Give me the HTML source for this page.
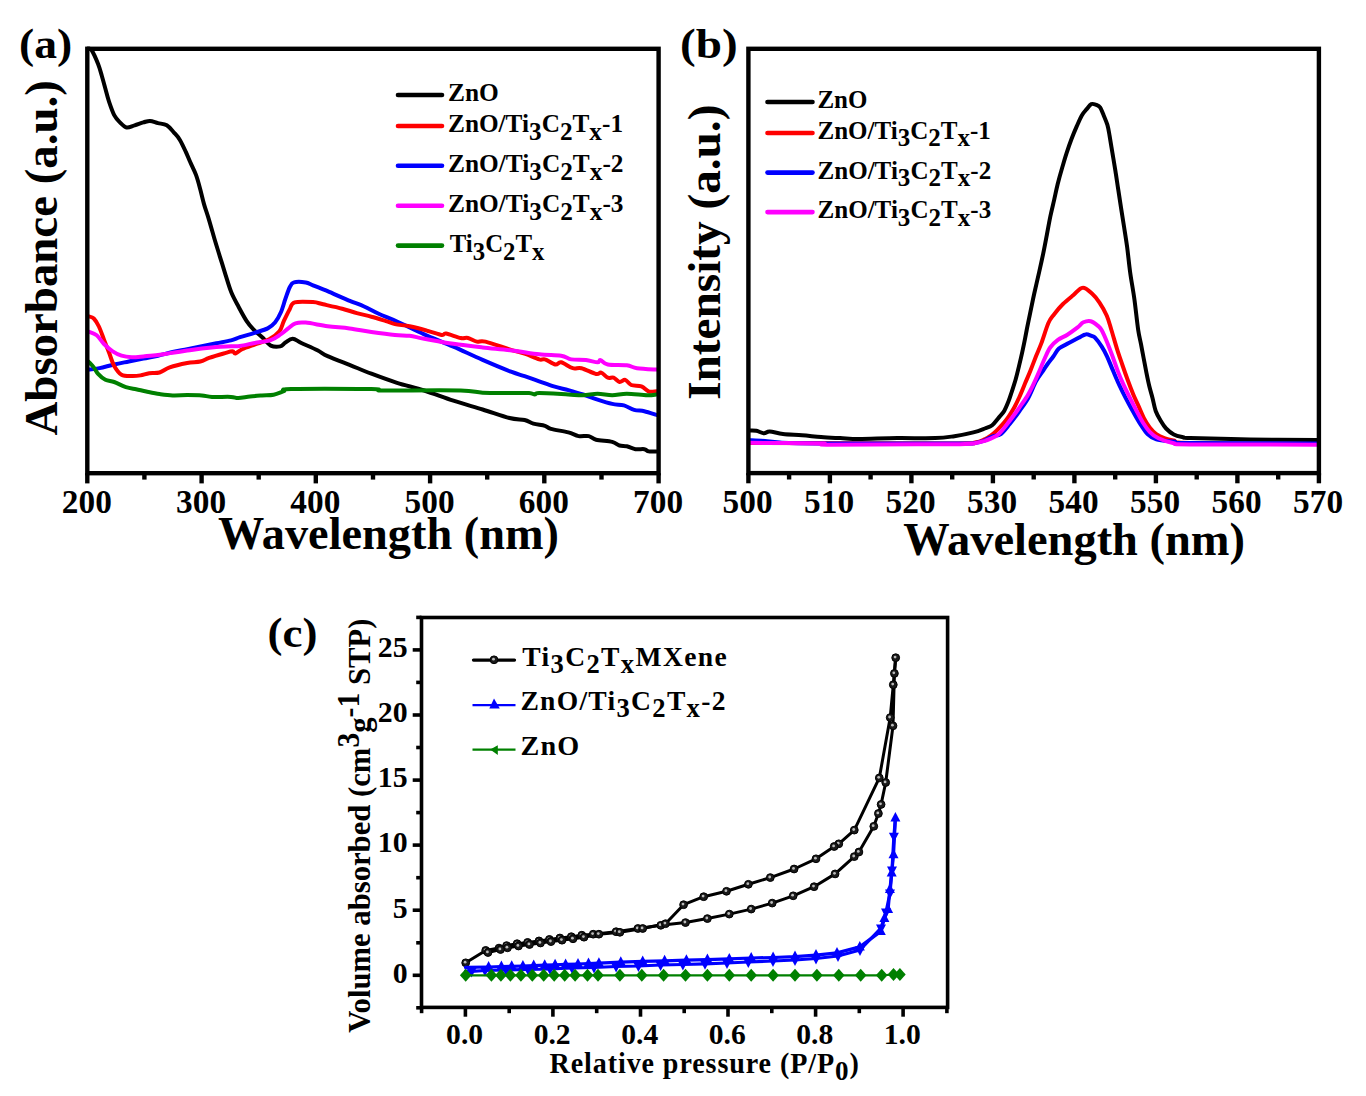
<!DOCTYPE html><html><head><meta charset="utf-8"><style>html,body{margin:0;padding:0;background:#fff;overflow:hidden}svg{display:block}</style></head><body><svg width="1366" height="1096" viewBox="0 0 1366 1096"><rect width="1366" height="1096" fill="#fff"/>
<path d="M88.0,48.5C88.6,48.8 89.9,47.5 91.6,50.1C93.3,52.7 96.4,59.7 98.1,64.0C99.8,68.3 100.6,71.6 101.8,75.7C103.0,79.8 104.2,84.4 105.4,88.8C106.6,93.2 107.6,97.5 109.1,101.9C110.6,106.3 112.4,111.7 114.2,115.1C116.0,118.5 117.9,120.3 120.0,122.4C122.1,124.5 124.2,127.0 126.6,127.5C129.0,128.0 131.8,126.1 134.6,125.3C137.4,124.5 140.8,123.1 143.4,122.4C146.0,121.7 147.6,120.8 150.0,120.9C152.4,121.0 155.2,122.4 158.0,123.1C160.8,123.8 164.1,123.7 166.8,125.3C169.5,126.9 171.8,130.2 174.0,132.6C176.2,135.0 178.0,136.7 179.9,139.9C181.8,143.1 184.0,147.9 185.7,151.6C187.4,155.2 188.4,157.9 190.1,161.8C191.8,165.7 194.3,170.3 196.0,174.9C197.7,179.5 199.0,184.6 200.3,189.5C201.6,194.4 202.7,199.5 204.0,204.1C205.3,208.7 206.4,211.4 208.1,216.9C209.8,222.4 212.1,230.7 214.0,237.3C215.9,243.9 217.9,250.0 219.8,256.3C221.8,262.6 223.8,269.2 225.7,275.3C227.6,281.4 229.3,287.5 231.5,292.8C233.7,298.1 236.3,302.5 238.8,307.2C241.3,311.9 244.1,317.1 246.5,320.8C248.9,324.5 250.8,326.6 253.4,329.3C256.0,332.1 259.3,334.6 262.2,337.3C265.1,340.0 267.8,344.1 270.8,345.6C273.8,347.1 277.9,346.9 280.3,346.4C282.7,345.9 283.3,343.8 285.4,342.5C287.5,341.2 290.0,338.6 292.7,338.7C295.4,338.8 297.2,341.1 301.3,343.0C305.4,344.9 313.0,348.1 317.4,350.3C321.8,352.5 322.2,353.7 327.6,356.1C333.0,358.5 342.2,362.0 349.5,364.9C356.8,367.8 363.5,370.7 371.4,373.7C379.3,376.7 388.2,380.0 397.0,382.8C405.8,385.6 414.8,387.5 424.2,390.5C433.6,393.5 443.7,397.5 453.4,400.7C463.1,403.9 473.2,406.6 482.6,409.5C492.0,412.4 502.5,416.2 509.5,418.0C516.5,419.8 520.6,419.1 524.6,420.0C528.6,420.9 530.0,422.6 533.4,423.6C536.8,424.6 542.1,424.9 545.0,425.8C547.9,426.7 547.0,427.7 550.9,428.8C554.8,429.9 563.8,431.2 568.4,432.4C573.0,433.6 575.2,435.5 578.6,436.1C582.0,436.7 585.9,435.5 588.8,436.1C591.7,436.7 592.2,438.7 596.1,439.7C600.0,440.7 608.3,440.9 612.2,441.9C616.1,442.9 617.1,444.8 619.5,445.5C621.9,446.2 624.1,445.7 626.8,446.3C629.5,446.9 632.6,448.7 635.5,449.2C638.4,449.7 642.1,448.8 644.3,449.2C646.5,449.6 646.7,451.0 648.7,451.4C650.7,451.8 655.2,451.4 656.5,451.4" fill="none" stroke="#000" stroke-width="4.0" stroke-linejoin="round" stroke-linecap="round"/>
<path d="M88.5,369.6C90.3,369.4 95.3,369.0 99.6,368.1C103.9,367.2 109.3,365.6 114.2,364.5C119.1,363.4 123.9,362.5 128.8,361.5C133.7,360.5 138.5,359.6 143.4,358.6C148.3,357.6 153.1,356.8 158.0,355.7C162.9,354.6 167.7,353.1 172.6,352.0C177.5,350.9 182.3,350.1 187.2,349.1C192.1,348.1 196.9,347.2 201.8,346.2C206.7,345.2 211.5,344.3 216.4,343.3C221.3,342.3 227.1,341.4 231.0,340.4C234.9,339.4 236.1,338.5 240.0,337.2C243.9,335.9 250.0,334.3 254.6,332.8C259.2,331.3 264.3,330.1 267.7,328.4C271.1,326.7 272.8,325.3 275.0,322.6C277.2,319.9 279.2,316.2 280.9,312.3C282.6,308.4 283.9,303.3 285.3,299.2C286.8,295.1 288.2,290.3 289.6,287.5C291.1,284.7 291.3,283.2 294.0,282.4C296.7,281.5 302.5,281.9 305.7,282.4C308.9,282.9 309.4,283.8 313.0,285.3C316.6,286.8 322.7,289.1 327.6,291.2C332.5,293.3 338.3,296.0 342.2,297.7C346.1,299.4 347.4,299.9 351.0,301.4C354.6,302.9 359.5,304.4 364.1,306.5C368.7,308.6 373.2,311.3 378.7,313.8C384.2,316.3 389.4,318.1 397.0,321.5C404.6,324.9 414.8,330.1 424.2,334.3C433.6,338.5 443.7,342.4 453.4,346.7C463.1,351.0 473.0,355.7 482.6,359.9C492.2,364.1 504.0,369.0 511.0,371.7C518.0,374.4 519.9,374.6 524.6,376.2C529.3,377.8 534.3,379.6 539.2,381.3C544.1,383.0 548.9,384.9 553.8,386.4C558.7,387.9 563.5,388.8 568.4,390.1C573.3,391.5 578.1,392.9 583.0,394.5C587.9,396.1 592.7,398.0 597.6,399.6C602.5,401.2 607.8,402.9 612.2,403.9C616.6,404.9 620.2,404.4 623.9,405.4C627.5,406.4 630.7,408.8 634.1,409.8C637.5,410.8 640.6,410.4 644.3,411.2C648.0,412.0 654.5,414.3 656.5,414.9" fill="none" stroke="#00f" stroke-width="4.0" stroke-linejoin="round" stroke-linecap="round"/>
<path d="M88.5,316.3C89.4,316.7 92.1,316.8 93.8,318.5C95.5,320.2 97.2,323.0 98.9,326.5C100.6,330.0 102.3,335.2 104.0,339.6C105.7,344.0 107.4,348.4 109.1,352.8C110.8,357.2 112.1,362.2 114.2,365.9C116.3,369.5 118.6,373.0 121.5,374.7C124.4,376.4 128.5,376.0 131.7,376.1C134.9,376.2 137.6,375.9 140.5,375.4C143.4,374.9 146.0,373.7 149.2,373.2C152.4,372.7 156.1,373.5 159.5,372.5C162.9,371.5 165.1,369.0 169.7,367.4C174.3,365.8 182.1,364.0 187.2,363.0C192.3,362.0 196.7,362.4 200.3,361.5C204.0,360.6 205.2,359.2 209.1,357.9C213.0,356.6 219.8,354.6 223.7,353.5C227.6,352.4 230.4,351.3 232.4,351.3C234.4,351.3 233.8,353.9 235.4,353.5C237.0,353.1 238.8,350.7 242.0,349.2C245.2,347.7 250.1,346.1 254.6,344.5C259.1,342.9 265.1,341.5 269.2,339.3C273.3,337.1 277.0,334.3 279.4,331.3C281.8,328.3 282.1,324.8 283.8,321.1C285.5,317.5 287.8,312.5 289.6,309.4C291.4,306.3 290.8,303.6 294.7,302.4C298.6,301.2 308.2,301.8 313.0,302.1C317.8,302.4 318.3,303.2 323.2,304.3C328.1,305.4 336.6,307.2 342.2,308.7C347.8,310.2 351.9,311.8 356.8,313.1C361.7,314.4 366.5,315.4 371.4,316.7C376.3,318.0 382.1,319.9 386.0,321.1C389.9,322.3 391.1,323.2 395.0,324.1C398.9,325.0 404.2,325.2 409.6,326.3C415.0,327.4 421.8,329.2 427.1,330.7C432.5,332.1 438.5,334.5 441.7,335.0C444.9,335.5 442.9,333.1 446.1,333.6C449.3,334.1 457.1,337.3 460.7,338.0C464.3,338.7 465.3,337.4 468.0,338.0C470.7,338.6 473.9,341.0 476.8,341.6C479.7,342.2 479.8,340.2 485.5,341.6C491.2,343.0 504.5,347.8 511.0,349.8C517.5,351.8 519.9,352.0 524.6,353.6C529.3,355.2 535.8,358.4 539.2,359.4C542.6,360.4 542.3,358.5 545.0,359.4C547.7,360.2 552.6,364.0 555.3,364.5C558.0,365.0 558.2,361.7 561.1,362.3C564.0,362.9 569.4,367.2 572.8,368.2C576.2,369.2 577.6,367.2 581.5,368.2C585.4,369.2 592.8,373.3 596.1,374.0C599.4,374.7 599.2,372.0 601.2,372.6C603.2,373.2 605.7,376.9 607.8,377.7C609.9,378.5 611.6,377.0 613.6,377.7C615.6,378.4 617.5,381.6 619.5,382.0C621.5,382.4 623.3,379.4 625.3,379.9C627.2,380.4 628.5,383.9 631.2,385.0C633.9,386.1 638.5,385.3 641.4,386.4C644.3,387.5 646.2,390.7 648.7,391.5C651.2,392.3 655.2,391.2 656.5,391.2" fill="none" stroke="#f00" stroke-width="4.0" stroke-linejoin="round" stroke-linecap="round"/>
<path d="M88.5,331.6C89.9,332.2 94.1,333.2 96.7,335.3C99.3,337.4 101.3,341.3 104.0,344.0C106.7,346.7 109.8,349.4 112.7,351.3C115.6,353.2 118.3,354.7 121.5,355.7C124.7,356.7 128.0,357.1 131.7,357.2C135.3,357.3 139.0,356.8 143.4,356.4C147.8,356.0 153.1,355.6 158.0,355.0C162.9,354.4 167.7,353.5 172.6,352.8C177.5,352.1 182.3,351.3 187.2,350.6C192.1,349.9 196.9,349.0 201.8,348.4C206.7,347.8 211.5,347.3 216.4,346.9C221.3,346.5 227.1,346.4 231.0,346.2C234.9,346.0 236.1,346.4 240.0,345.9C243.9,345.4 249.5,344.0 254.6,343.0C259.7,342.0 266.3,341.6 270.7,340.1C275.1,338.6 278.0,336.1 280.9,334.2C283.8,332.2 285.8,330.2 288.2,328.4C290.6,326.6 292.6,324.3 295.5,323.3C298.4,322.3 300.3,322.1 305.7,322.6C311.1,323.1 320.3,325.2 327.6,326.2C334.9,327.2 342.2,327.4 349.5,328.4C356.8,329.4 363.8,330.9 371.4,332.0C379.0,333.1 388.6,334.4 395.0,335.0C401.4,335.6 404.7,335.2 409.6,335.8C414.5,336.4 416.9,337.4 424.2,338.7C431.5,340.0 443.7,342.4 453.4,343.8C463.1,345.2 472.9,346.3 482.6,347.4C492.3,348.5 502.4,349.2 511.8,350.4C521.2,351.5 531.0,353.4 539.2,354.3C547.4,355.2 555.8,355.0 561.1,355.8C566.5,356.6 567.2,358.7 571.3,359.4C575.4,360.1 581.5,359.6 585.9,360.1C590.3,360.6 595.2,362.3 597.6,362.3C600.0,362.3 598.8,359.7 600.5,360.1C602.2,360.5 603.4,363.6 607.8,364.5C612.2,365.4 621.9,364.7 626.8,365.3C631.7,365.9 632.0,367.5 637.0,368.2C642.0,368.9 653.2,369.4 656.5,369.6" fill="none" stroke="#f0f" stroke-width="4.0" stroke-linejoin="round" stroke-linecap="round"/>
<path d="M88.5,361.5C89.4,362.5 92.2,365.3 93.8,367.4C95.4,369.5 96.2,371.8 98.1,373.9C100.0,376.0 102.7,378.4 105.4,379.8C108.1,381.2 110.8,380.8 114.2,382.0C117.6,383.2 122.2,385.9 125.9,387.1C129.6,388.3 132.7,388.6 136.1,389.3C139.5,390.0 142.4,390.7 146.3,391.5C150.2,392.3 155.1,393.4 159.5,394.0C163.9,394.6 168.0,395.2 172.6,395.4C177.2,395.6 182.3,395.1 187.2,395.1C192.1,395.1 197.7,395.1 201.8,395.4C205.9,395.7 207.1,396.6 212.0,396.9C216.9,397.1 226.6,396.7 231.0,396.9C235.4,397.1 235.1,398.1 238.3,398.0C241.5,397.9 246.1,396.9 250.0,396.5C253.9,396.1 258.0,395.8 261.9,395.5C265.8,395.2 270.0,395.5 273.6,394.8C277.2,394.1 280.9,392.2 283.8,391.2C286.7,390.2 276.5,389.4 291.1,389.0C305.7,388.6 356.8,388.8 371.4,389.0C386.0,389.2 374.8,390.1 378.7,390.4C382.6,390.6 381.3,390.5 395.0,390.5C408.7,390.5 446.1,390.1 460.7,390.5C475.3,390.9 474.4,392.3 482.6,392.7C490.8,393.1 502.3,392.9 510.0,393.0C517.7,393.1 524.9,392.8 529.0,393.0C533.1,393.2 533.1,394.5 534.8,394.5C536.5,394.5 533.6,393.0 539.2,393.0C544.8,393.0 561.1,394.1 568.4,394.5C575.7,394.9 578.1,395.3 583.0,395.2C587.9,395.1 592.7,393.7 597.6,393.7C602.5,393.7 607.3,395.2 612.2,395.2C617.1,395.2 621.0,393.7 626.8,393.7C632.6,393.7 642.2,395.1 647.2,395.2C652.2,395.3 655.0,394.6 656.5,394.5" fill="none" stroke="#008000" stroke-width="4.0" stroke-linejoin="round" stroke-linecap="round"/>
<rect x="87.3" y="48.8" width="571.3000000000001" height="424.4" fill="none" stroke="#000" stroke-width="4.4"/>
<line x1="87.3" y1="473.2" x2="87.3" y2="483.4" stroke="#000" stroke-width="4.4"/>
<line x1="144.4" y1="473.2" x2="144.4" y2="479.6" stroke="#000" stroke-width="4.4"/>
<line x1="201.6" y1="473.2" x2="201.6" y2="483.4" stroke="#000" stroke-width="4.4"/>
<line x1="258.7" y1="473.2" x2="258.7" y2="479.6" stroke="#000" stroke-width="4.4"/>
<line x1="315.8" y1="473.2" x2="315.8" y2="483.4" stroke="#000" stroke-width="4.4"/>
<line x1="373.0" y1="473.2" x2="373.0" y2="479.6" stroke="#000" stroke-width="4.4"/>
<line x1="430.1" y1="473.2" x2="430.1" y2="483.4" stroke="#000" stroke-width="4.4"/>
<line x1="487.2" y1="473.2" x2="487.2" y2="479.6" stroke="#000" stroke-width="4.4"/>
<line x1="544.3" y1="473.2" x2="544.3" y2="483.4" stroke="#000" stroke-width="4.4"/>
<line x1="601.5" y1="473.2" x2="601.5" y2="479.6" stroke="#000" stroke-width="4.4"/>
<line x1="658.6" y1="473.2" x2="658.6" y2="483.4" stroke="#000" stroke-width="4.4"/>
<path d="M749.5,430.5C750.6,430.6 754.0,430.3 756.4,430.8C758.8,431.3 761.8,433.2 764.0,433.3C766.2,433.4 766.5,431.3 769.7,431.4C772.9,431.5 777.6,433.3 783.0,433.9C788.4,434.5 795.8,434.7 802.1,435.2C808.5,435.7 814.8,436.6 821.1,437.1C827.5,437.6 833.9,437.8 840.2,438.1C846.6,438.4 849.7,439.0 859.2,439.0C868.7,439.0 884.6,438.2 897.3,438.1C910.0,438.0 925.8,438.4 935.3,438.1C944.8,437.8 948.0,437.1 954.4,436.2C960.8,435.2 968.3,433.7 973.4,432.4C978.5,431.1 981.7,429.7 984.8,428.5C987.9,427.3 989.9,427.0 992.2,425.2C994.5,423.4 996.8,420.0 998.8,417.6C1000.8,415.2 1002.6,413.8 1004.2,411.0C1005.8,408.2 1007.3,404.4 1008.6,401.1C1009.9,397.8 1010.7,395.0 1011.9,391.3C1013.1,387.6 1014.5,383.4 1015.7,379.2C1016.9,375.0 1017.9,370.7 1019.0,366.1C1020.1,361.6 1021.4,356.1 1022.3,351.9C1023.2,347.7 1023.9,344.5 1024.6,340.9C1025.3,337.2 1025.8,334.7 1026.7,330.0C1027.6,325.3 1029.0,318.8 1030.2,312.8C1031.5,306.8 1032.7,300.6 1034.2,293.8C1035.7,287.0 1037.7,278.5 1039.2,271.9C1040.7,265.3 1041.8,260.2 1043.1,254.1C1044.4,248.0 1045.6,241.4 1046.8,235.1C1048.0,228.8 1049.2,222.0 1050.4,216.2C1051.6,210.4 1052.9,205.4 1054.1,200.1C1055.3,194.8 1056.4,189.4 1057.7,184.1C1059.0,178.8 1060.6,173.1 1062.1,168.0C1063.6,162.9 1064.9,158.3 1066.5,153.4C1068.1,148.5 1069.9,143.3 1071.6,138.8C1073.3,134.3 1075.0,130.3 1076.7,126.4C1078.4,122.5 1080.1,118.3 1081.8,115.4C1083.5,112.5 1085.3,110.8 1086.9,108.9C1088.5,107.0 1089.7,104.8 1091.3,104.1C1092.9,103.4 1094.9,104.4 1096.4,104.9C1097.9,105.5 1098.9,105.7 1100.1,107.4C1101.3,109.2 1102.5,112.5 1103.7,115.4C1104.9,118.3 1106.4,121.5 1107.4,124.9C1108.4,128.3 1108.8,131.2 1109.6,135.9C1110.4,140.7 1111.5,147.6 1112.5,153.4C1113.5,159.2 1114.4,164.8 1115.4,170.9C1116.4,177.0 1117.3,183.6 1118.3,189.9C1119.3,196.2 1120.2,202.6 1121.2,208.9C1122.2,215.2 1123.2,221.5 1124.2,227.8C1125.2,234.1 1126.1,239.5 1127.1,246.8C1128.1,254.2 1128.9,263.0 1130.1,271.9C1131.3,280.8 1133.2,290.3 1134.5,300.0C1135.8,309.7 1137.1,322.6 1138.2,330.0C1139.3,337.4 1140.1,339.4 1141.0,344.2C1141.9,348.9 1142.8,353.8 1143.7,358.5C1144.6,363.2 1145.5,368.1 1146.4,372.7C1147.3,377.2 1148.2,381.6 1149.2,385.8C1150.2,390.0 1151.4,393.7 1152.5,397.9C1153.6,402.1 1154.3,407.2 1155.7,411.0C1157.1,414.8 1159.0,417.9 1160.7,420.8C1162.4,423.7 1163.9,426.2 1166.1,428.5C1168.3,430.8 1170.9,433.0 1173.8,434.5C1176.7,436.0 1180.6,436.7 1183.3,437.3C1186.0,437.9 1178.9,437.6 1190.0,438.0C1201.1,438.4 1228.8,439.1 1250.0,439.5C1271.2,439.9 1305.8,440.0 1317.0,440.1" fill="none" stroke="#000" stroke-width="4.0" stroke-linejoin="round" stroke-linecap="round"/>
<path d="M749.5,443.0C782.9,443.1 912.4,443.6 950.0,443.5C987.6,443.4 969.2,443.2 975.0,442.5C980.8,441.8 982.5,440.2 985.0,439.2C987.5,438.1 988.1,437.6 990.0,436.2C991.9,434.8 993.9,433.4 996.6,430.7C999.3,427.9 1003.5,423.5 1006.4,419.7C1009.3,415.9 1011.9,411.5 1014.1,407.7C1016.3,403.9 1017.7,400.8 1019.5,396.8C1021.3,392.8 1023.2,388.0 1025.0,383.6C1026.8,379.2 1028.7,375.1 1030.5,370.5C1032.3,365.9 1034.2,360.9 1036.0,356.3C1037.8,351.7 1039.3,348.7 1041.4,343.1C1043.5,337.6 1046.3,327.8 1048.4,323.0C1050.5,318.2 1051.8,317.4 1054.2,314.2C1056.6,311.0 1059.8,307.1 1063.0,304.0C1066.2,300.9 1069.9,298.0 1073.2,295.3C1076.5,292.6 1079.5,287.9 1082.7,287.7C1085.9,287.4 1089.4,291.3 1092.2,293.8C1095.0,296.3 1097.1,299.0 1099.5,302.6C1101.9,306.2 1104.8,311.1 1106.8,315.7C1108.8,320.3 1109.7,324.5 1111.4,330.0C1113.1,335.5 1115.1,342.8 1116.9,348.6C1118.7,354.4 1120.6,359.7 1122.4,365.0C1124.2,370.3 1126.0,375.4 1127.8,380.3C1129.6,385.2 1131.5,390.2 1133.3,394.6C1135.1,399.0 1137.0,402.6 1138.8,406.6C1140.6,410.6 1142.4,415.1 1144.2,418.6C1146.0,422.1 1147.7,424.8 1149.7,427.4C1151.7,430.0 1153.8,432.2 1156.3,434.0C1158.8,435.8 1162.1,437.2 1165.0,438.3C1167.9,439.4 1169.6,439.7 1173.8,440.5C1178.0,441.3 1166.1,442.4 1190.0,443.0C1213.9,443.6 1295.8,443.8 1317.0,444.0" fill="none" stroke="#f00" stroke-width="4.0" stroke-linejoin="round" stroke-linecap="round"/>
<path d="M749.5,440.3C752.1,440.4 759.9,440.6 765.0,441.0C770.1,441.4 770.7,442.2 780.0,442.6C789.3,443.0 792.0,443.2 821.0,443.4C850.0,443.6 928.3,443.7 954.0,443.6C979.7,443.5 969.8,443.6 975.0,443.0C980.2,442.4 982.2,441.4 985.0,440.3C987.8,439.2 989.4,437.6 992.0,436.5C994.6,435.4 997.9,436.1 1000.9,434.0C1003.9,431.9 1006.6,427.9 1009.7,424.1C1012.8,420.3 1016.4,415.4 1019.5,411.0C1022.6,406.6 1025.5,402.8 1028.3,397.9C1031.0,393.0 1033.6,385.8 1036.0,381.4C1038.4,377.0 1040.7,374.3 1042.5,371.6C1044.3,368.9 1045.1,367.6 1046.9,365.0C1048.7,362.4 1051.5,359.0 1053.5,356.3C1055.5,353.6 1056.4,350.8 1058.9,348.6C1061.5,346.4 1065.4,344.9 1068.8,343.1C1072.2,341.3 1076.3,339.1 1079.1,337.6C1081.9,336.2 1083.4,334.6 1085.6,334.4C1087.8,334.1 1090.6,335.6 1092.2,336.1C1093.8,336.7 1093.4,336.0 1095.0,337.7C1096.6,339.4 1099.6,343.3 1101.6,346.4C1103.6,349.5 1105.2,352.5 1107.0,356.3C1108.8,360.1 1110.5,364.7 1112.5,369.4C1114.5,374.1 1116.9,379.9 1119.1,384.7C1121.3,389.4 1123.2,393.3 1125.6,397.9C1128.0,402.5 1130.7,407.6 1133.3,412.1C1135.9,416.7 1138.6,421.6 1141.0,425.2C1143.4,428.8 1145.0,431.6 1147.5,434.0C1150.0,436.4 1151.9,438.1 1156.3,439.4C1160.7,440.7 1168.2,441.0 1173.8,441.6C1179.4,442.2 1166.1,442.7 1190.0,443.0C1213.9,443.3 1295.8,443.4 1317.0,443.5" fill="none" stroke="#00f" stroke-width="4.0" stroke-linejoin="round" stroke-linecap="round"/>
<path d="M749.5,442.8C761.4,442.9 808.2,443.1 821.1,443.4C834.0,443.7 810.9,444.6 826.8,444.7C842.7,444.8 895.0,444.3 916.3,444.2C937.6,444.1 944.9,444.3 954.4,444.2C963.9,444.1 968.3,443.9 973.4,443.4C978.5,442.8 982.0,441.6 984.8,440.9C987.6,440.1 987.7,440.0 990.0,438.9C992.3,437.8 995.5,437.0 998.8,434.0C1002.1,431.0 1006.4,425.0 1009.7,420.8C1013.0,416.6 1015.8,412.6 1018.5,408.8C1021.2,405.0 1023.7,401.7 1026.1,397.9C1028.5,394.1 1030.7,389.8 1032.7,385.8C1034.7,381.8 1036.2,378.4 1038.2,373.8C1040.2,369.2 1042.7,362.9 1044.7,358.5C1046.7,354.1 1048.0,350.6 1050.2,347.5C1052.4,344.4 1055.0,341.9 1057.9,339.8C1060.8,337.7 1064.1,336.8 1067.4,334.7C1070.7,332.6 1074.9,329.5 1077.6,327.4C1080.3,325.3 1081.2,323.3 1083.4,322.3C1085.6,321.3 1088.3,320.6 1090.7,321.2C1093.1,321.8 1096.2,324.4 1098.0,325.9C1099.8,327.4 1100.1,327.3 1101.6,330.0C1103.1,332.7 1105.2,337.6 1107.0,342.0C1108.8,346.4 1110.7,351.4 1112.5,356.3C1114.3,361.2 1116.2,366.9 1118.0,371.6C1119.8,376.3 1121.5,380.3 1123.5,384.7C1125.5,389.1 1127.8,393.5 1130.0,397.9C1132.2,402.3 1134.4,406.8 1136.6,411.0C1138.8,415.2 1141.0,419.5 1143.2,423.0C1145.4,426.5 1147.2,429.2 1149.7,431.8C1152.2,434.4 1154.5,436.4 1158.5,438.3C1162.5,440.2 1168.5,442.3 1173.8,443.3C1179.0,444.3 1166.1,444.2 1190.0,444.4C1213.9,444.6 1295.8,444.6 1317.0,444.7" fill="none" stroke="#f0f" stroke-width="4.0" stroke-linejoin="round" stroke-linecap="round"/>
<rect x="748.4" y="48.8" width="570.5000000000001" height="424.3" fill="none" stroke="#000" stroke-width="4.4"/>
<line x1="748.4" y1="473.1" x2="748.4" y2="483.3" stroke="#000" stroke-width="4.4"/>
<line x1="789.1" y1="473.1" x2="789.1" y2="479.5" stroke="#000" stroke-width="4.4"/>
<line x1="829.9" y1="473.1" x2="829.9" y2="483.3" stroke="#000" stroke-width="4.4"/>
<line x1="870.6" y1="473.1" x2="870.6" y2="479.5" stroke="#000" stroke-width="4.4"/>
<line x1="911.4" y1="473.1" x2="911.4" y2="483.3" stroke="#000" stroke-width="4.4"/>
<line x1="952.2" y1="473.1" x2="952.2" y2="479.5" stroke="#000" stroke-width="4.4"/>
<line x1="992.9" y1="473.1" x2="992.9" y2="483.3" stroke="#000" stroke-width="4.4"/>
<line x1="1033.7" y1="473.1" x2="1033.7" y2="479.5" stroke="#000" stroke-width="4.4"/>
<line x1="1074.4" y1="473.1" x2="1074.4" y2="483.3" stroke="#000" stroke-width="4.4"/>
<line x1="1115.2" y1="473.1" x2="1115.2" y2="479.5" stroke="#000" stroke-width="4.4"/>
<line x1="1155.9" y1="473.1" x2="1155.9" y2="483.3" stroke="#000" stroke-width="4.4"/>
<line x1="1196.7" y1="473.1" x2="1196.7" y2="479.5" stroke="#000" stroke-width="4.4"/>
<line x1="1237.4" y1="473.1" x2="1237.4" y2="483.3" stroke="#000" stroke-width="4.4"/>
<line x1="1278.2" y1="473.1" x2="1278.2" y2="479.5" stroke="#000" stroke-width="4.4"/>
<line x1="1318.9" y1="473.1" x2="1318.9" y2="483.3" stroke="#000" stroke-width="4.4"/>
<polyline points="895.7,657.7 893.3,684.7 890.2,717.6 879.3,777.9 854.3,830.1 838.8,843.8 834.2,846.5 816.0,858.8 794.1,869.0 770.3,877.6 748.4,884.3 726.5,891.3 703.7,896.7 683.6,904.7 665.5,923.7 642.7,928.5 619.9,932.3 598.9,934.2 584.0,937.2 573.0,938.8 562.0,940.2 551.0,941.6 540.5,943.0 529.5,944.5 518.5,946.0 507.5,947.8 500.5,949.5 488.0,952.5" fill="none" stroke="#000" stroke-width="3.0" stroke-linejoin="round" stroke-linecap="round" />
<polyline points="465.7,962.8 485.7,950.4 499.0,948.1 506.6,945.6 517.1,943.7 527.6,942.4 539.0,940.9 549.4,939.4 559.9,938.0 571.3,936.7 581.8,935.2 593.2,934.2 616.1,931.7 637.9,928.5 660.8,925.3 685.5,922.6 707.4,918.6 729.3,914.1 751.2,909.1 772.2,903.1 793.2,895.8 814.1,886.7 835.1,873.9 854.3,856.6 858.9,852.0 873.8,826.3 878.4,813.5 881.1,804.4 885.7,782.5 893.0,725.8 894.4,673.4 895.7,657.7" fill="none" stroke="#000" stroke-width="3.0" stroke-linejoin="round" stroke-linecap="round" />
<circle cx="465.7" cy="962.8" r="3.9" fill="#1a1a1a" stroke="#000" stroke-width="1.0"/><circle cx="465.1" cy="962.2" r="1.4" fill="#bbb"/>
<circle cx="485.7" cy="950.4" r="3.9" fill="#1a1a1a" stroke="#000" stroke-width="1.0"/><circle cx="485.1" cy="949.8" r="1.4" fill="#bbb"/>
<circle cx="499.0" cy="948.1" r="3.9" fill="#1a1a1a" stroke="#000" stroke-width="1.0"/><circle cx="498.4" cy="947.5" r="1.4" fill="#bbb"/>
<circle cx="506.6" cy="945.6" r="3.9" fill="#1a1a1a" stroke="#000" stroke-width="1.0"/><circle cx="506.0" cy="945.0" r="1.4" fill="#bbb"/>
<circle cx="517.1" cy="943.7" r="3.9" fill="#1a1a1a" stroke="#000" stroke-width="1.0"/><circle cx="516.5" cy="943.1" r="1.4" fill="#bbb"/>
<circle cx="527.6" cy="942.4" r="3.9" fill="#1a1a1a" stroke="#000" stroke-width="1.0"/><circle cx="527.0" cy="941.8" r="1.4" fill="#bbb"/>
<circle cx="539.0" cy="940.9" r="3.9" fill="#1a1a1a" stroke="#000" stroke-width="1.0"/><circle cx="538.4" cy="940.3" r="1.4" fill="#bbb"/>
<circle cx="549.4" cy="939.4" r="3.9" fill="#1a1a1a" stroke="#000" stroke-width="1.0"/><circle cx="548.8" cy="938.8" r="1.4" fill="#bbb"/>
<circle cx="559.9" cy="938.0" r="3.9" fill="#1a1a1a" stroke="#000" stroke-width="1.0"/><circle cx="559.3" cy="937.4" r="1.4" fill="#bbb"/>
<circle cx="571.3" cy="936.7" r="3.9" fill="#1a1a1a" stroke="#000" stroke-width="1.0"/><circle cx="570.7" cy="936.1" r="1.4" fill="#bbb"/>
<circle cx="581.8" cy="935.2" r="3.9" fill="#1a1a1a" stroke="#000" stroke-width="1.0"/><circle cx="581.2" cy="934.6" r="1.4" fill="#bbb"/>
<circle cx="593.2" cy="934.2" r="3.9" fill="#1a1a1a" stroke="#000" stroke-width="1.0"/><circle cx="592.6" cy="933.6" r="1.4" fill="#bbb"/>
<circle cx="616.1" cy="931.7" r="3.9" fill="#1a1a1a" stroke="#000" stroke-width="1.0"/><circle cx="615.5" cy="931.1" r="1.4" fill="#bbb"/>
<circle cx="637.9" cy="928.5" r="3.9" fill="#1a1a1a" stroke="#000" stroke-width="1.0"/><circle cx="637.3" cy="927.9" r="1.4" fill="#bbb"/>
<circle cx="660.8" cy="925.3" r="3.9" fill="#1a1a1a" stroke="#000" stroke-width="1.0"/><circle cx="660.2" cy="924.7" r="1.4" fill="#bbb"/>
<circle cx="685.5" cy="922.6" r="3.9" fill="#1a1a1a" stroke="#000" stroke-width="1.0"/><circle cx="684.9" cy="922.0" r="1.4" fill="#bbb"/>
<circle cx="707.4" cy="918.6" r="3.9" fill="#1a1a1a" stroke="#000" stroke-width="1.0"/><circle cx="706.8" cy="918.0" r="1.4" fill="#bbb"/>
<circle cx="729.3" cy="914.1" r="3.9" fill="#1a1a1a" stroke="#000" stroke-width="1.0"/><circle cx="728.7" cy="913.5" r="1.4" fill="#bbb"/>
<circle cx="751.2" cy="909.1" r="3.9" fill="#1a1a1a" stroke="#000" stroke-width="1.0"/><circle cx="750.6" cy="908.5" r="1.4" fill="#bbb"/>
<circle cx="772.2" cy="903.1" r="3.9" fill="#1a1a1a" stroke="#000" stroke-width="1.0"/><circle cx="771.6" cy="902.5" r="1.4" fill="#bbb"/>
<circle cx="793.2" cy="895.8" r="3.9" fill="#1a1a1a" stroke="#000" stroke-width="1.0"/><circle cx="792.6" cy="895.2" r="1.4" fill="#bbb"/>
<circle cx="814.1" cy="886.7" r="3.9" fill="#1a1a1a" stroke="#000" stroke-width="1.0"/><circle cx="813.5" cy="886.1" r="1.4" fill="#bbb"/>
<circle cx="835.1" cy="873.9" r="3.9" fill="#1a1a1a" stroke="#000" stroke-width="1.0"/><circle cx="834.5" cy="873.3" r="1.4" fill="#bbb"/>
<circle cx="854.3" cy="856.6" r="3.9" fill="#1a1a1a" stroke="#000" stroke-width="1.0"/><circle cx="853.7" cy="856.0" r="1.4" fill="#bbb"/>
<circle cx="858.9" cy="852.0" r="3.9" fill="#1a1a1a" stroke="#000" stroke-width="1.0"/><circle cx="858.3" cy="851.4" r="1.4" fill="#bbb"/>
<circle cx="873.8" cy="826.3" r="3.9" fill="#1a1a1a" stroke="#000" stroke-width="1.0"/><circle cx="873.2" cy="825.7" r="1.4" fill="#bbb"/>
<circle cx="878.4" cy="813.5" r="3.9" fill="#1a1a1a" stroke="#000" stroke-width="1.0"/><circle cx="877.8" cy="812.9" r="1.4" fill="#bbb"/>
<circle cx="881.1" cy="804.4" r="3.9" fill="#1a1a1a" stroke="#000" stroke-width="1.0"/><circle cx="880.5" cy="803.8" r="1.4" fill="#bbb"/>
<circle cx="885.7" cy="782.5" r="3.9" fill="#1a1a1a" stroke="#000" stroke-width="1.0"/><circle cx="885.1" cy="781.9" r="1.4" fill="#bbb"/>
<circle cx="893.0" cy="725.8" r="3.9" fill="#1a1a1a" stroke="#000" stroke-width="1.0"/><circle cx="892.4" cy="725.2" r="1.4" fill="#bbb"/>
<circle cx="894.4" cy="673.4" r="3.9" fill="#1a1a1a" stroke="#000" stroke-width="1.0"/><circle cx="893.8" cy="672.8" r="1.4" fill="#bbb"/>
<circle cx="895.7" cy="657.7" r="3.9" fill="#1a1a1a" stroke="#000" stroke-width="1.0"/><circle cx="895.1" cy="657.1" r="1.4" fill="#bbb"/>
<circle cx="893.3" cy="684.7" r="3.9" fill="#1a1a1a" stroke="#000" stroke-width="1.0"/><circle cx="892.7" cy="684.1" r="1.4" fill="#bbb"/>
<circle cx="890.2" cy="717.6" r="3.9" fill="#1a1a1a" stroke="#000" stroke-width="1.0"/><circle cx="889.6" cy="717.0" r="1.4" fill="#bbb"/>
<circle cx="879.3" cy="777.9" r="3.9" fill="#1a1a1a" stroke="#000" stroke-width="1.0"/><circle cx="878.7" cy="777.3" r="1.4" fill="#bbb"/>
<circle cx="854.3" cy="830.1" r="3.9" fill="#1a1a1a" stroke="#000" stroke-width="1.0"/><circle cx="853.7" cy="829.5" r="1.4" fill="#bbb"/>
<circle cx="838.8" cy="843.8" r="3.9" fill="#1a1a1a" stroke="#000" stroke-width="1.0"/><circle cx="838.2" cy="843.2" r="1.4" fill="#bbb"/>
<circle cx="834.2" cy="846.5" r="3.9" fill="#1a1a1a" stroke="#000" stroke-width="1.0"/><circle cx="833.6" cy="845.9" r="1.4" fill="#bbb"/>
<circle cx="816.0" cy="858.8" r="3.9" fill="#1a1a1a" stroke="#000" stroke-width="1.0"/><circle cx="815.4" cy="858.2" r="1.4" fill="#bbb"/>
<circle cx="794.1" cy="869.0" r="3.9" fill="#1a1a1a" stroke="#000" stroke-width="1.0"/><circle cx="793.5" cy="868.4" r="1.4" fill="#bbb"/>
<circle cx="770.3" cy="877.6" r="3.9" fill="#1a1a1a" stroke="#000" stroke-width="1.0"/><circle cx="769.7" cy="877.0" r="1.4" fill="#bbb"/>
<circle cx="748.4" cy="884.3" r="3.9" fill="#1a1a1a" stroke="#000" stroke-width="1.0"/><circle cx="747.8" cy="883.7" r="1.4" fill="#bbb"/>
<circle cx="726.5" cy="891.3" r="3.9" fill="#1a1a1a" stroke="#000" stroke-width="1.0"/><circle cx="725.9" cy="890.7" r="1.4" fill="#bbb"/>
<circle cx="703.7" cy="896.7" r="3.9" fill="#1a1a1a" stroke="#000" stroke-width="1.0"/><circle cx="703.1" cy="896.1" r="1.4" fill="#bbb"/>
<circle cx="683.6" cy="904.7" r="3.9" fill="#1a1a1a" stroke="#000" stroke-width="1.0"/><circle cx="683.0" cy="904.1" r="1.4" fill="#bbb"/>
<circle cx="665.5" cy="923.7" r="3.9" fill="#1a1a1a" stroke="#000" stroke-width="1.0"/><circle cx="664.9" cy="923.1" r="1.4" fill="#bbb"/>
<circle cx="642.7" cy="928.5" r="3.9" fill="#1a1a1a" stroke="#000" stroke-width="1.0"/><circle cx="642.1" cy="927.9" r="1.4" fill="#bbb"/>
<circle cx="619.9" cy="932.3" r="3.9" fill="#1a1a1a" stroke="#000" stroke-width="1.0"/><circle cx="619.3" cy="931.7" r="1.4" fill="#bbb"/>
<circle cx="598.9" cy="934.2" r="3.9" fill="#1a1a1a" stroke="#000" stroke-width="1.0"/><circle cx="598.3" cy="933.6" r="1.4" fill="#bbb"/>
<circle cx="584.0" cy="937.2" r="3.9" fill="#1a1a1a" stroke="#000" stroke-width="1.0"/><circle cx="583.4" cy="936.6" r="1.4" fill="#bbb"/>
<circle cx="573.0" cy="938.8" r="3.9" fill="#1a1a1a" stroke="#000" stroke-width="1.0"/><circle cx="572.4" cy="938.2" r="1.4" fill="#bbb"/>
<circle cx="562.0" cy="940.2" r="3.9" fill="#1a1a1a" stroke="#000" stroke-width="1.0"/><circle cx="561.4" cy="939.6" r="1.4" fill="#bbb"/>
<circle cx="551.0" cy="941.6" r="3.9" fill="#1a1a1a" stroke="#000" stroke-width="1.0"/><circle cx="550.4" cy="941.0" r="1.4" fill="#bbb"/>
<circle cx="540.5" cy="943.0" r="3.9" fill="#1a1a1a" stroke="#000" stroke-width="1.0"/><circle cx="539.9" cy="942.4" r="1.4" fill="#bbb"/>
<circle cx="529.5" cy="944.5" r="3.9" fill="#1a1a1a" stroke="#000" stroke-width="1.0"/><circle cx="528.9" cy="943.9" r="1.4" fill="#bbb"/>
<circle cx="518.5" cy="946.0" r="3.9" fill="#1a1a1a" stroke="#000" stroke-width="1.0"/><circle cx="517.9" cy="945.4" r="1.4" fill="#bbb"/>
<circle cx="507.5" cy="947.8" r="3.9" fill="#1a1a1a" stroke="#000" stroke-width="1.0"/><circle cx="506.9" cy="947.2" r="1.4" fill="#bbb"/>
<circle cx="500.5" cy="949.5" r="3.9" fill="#1a1a1a" stroke="#000" stroke-width="1.0"/><circle cx="499.9" cy="948.9" r="1.4" fill="#bbb"/>
<circle cx="488.0" cy="952.5" r="3.9" fill="#1a1a1a" stroke="#000" stroke-width="1.0"/><circle cx="487.4" cy="951.9" r="1.4" fill="#bbb"/>
<polyline points="895.4,818.1 893.9,836.3 892.0,870.0 890.0,893.0 886.0,912.0 881.0,928.0 860.0,950.0 838.0,956.0 816.0,958.5 795.0,960.0 773.0,961.0 748.3,962.0 727.0,963.0 705.0,963.8 682.9,964.5 660.6,965.0 638.4,966.0 616.1,966.5 594.0,967.5 572.0,968.0 550.0,969.0 528.0,969.5 506.0,970.0 485.0,970.5 471.5,971.4 465.5,971.0" fill="none" stroke="#00f" stroke-width="3.2" stroke-linejoin="round" stroke-linecap="round" />
<polyline points="465.5,967.4 488.6,967.0 501.4,966.6 511.7,966.3 522.9,966.0 533.7,965.6 544.7,965.2 555.1,964.8 565.6,964.4 578.0,964.0 588.5,963.6 598.9,963.2 620.8,962.2 642.7,961.4 664.6,960.8 686.4,960.2 707.4,959.6 729.3,958.9 751.2,958.0 773.1,957.5 795.0,956.6 816.0,955.1 837.0,952.9 859.8,946.9 880.8,931.4 884.4,918.6 888.1,909.5 889.9,889.4 891.7,873.0 893.5,854.8 895.4,818.1" fill="none" stroke="#00f" stroke-width="3.2" stroke-linejoin="round" stroke-linecap="round" />
<polygon points="488.6,961.0 493.6,970.5 483.6,970.5" fill="#00f"/>
<polygon points="501.4,960.6 506.4,970.1 496.4,970.1" fill="#00f"/>
<polygon points="511.7,960.3 516.7,969.8 506.7,969.8" fill="#00f"/>
<polygon points="522.9,960.0 527.9,969.5 517.9,969.5" fill="#00f"/>
<polygon points="533.7,959.6 538.7,969.1 528.7,969.1" fill="#00f"/>
<polygon points="544.7,959.2 549.7,968.7 539.7,968.7" fill="#00f"/>
<polygon points="555.1,958.8 560.1,968.3 550.1,968.3" fill="#00f"/>
<polygon points="565.6,958.4 570.6,967.9 560.6,967.9" fill="#00f"/>
<polygon points="578.0,958.0 583.0,967.5 573.0,967.5" fill="#00f"/>
<polygon points="588.5,957.6 593.5,967.1 583.5,967.1" fill="#00f"/>
<polygon points="598.9,957.2 603.9,966.7 593.9,966.7" fill="#00f"/>
<polygon points="620.8,956.2 625.8,965.7 615.8,965.7" fill="#00f"/>
<polygon points="642.7,955.4 647.7,964.9 637.7,964.9" fill="#00f"/>
<polygon points="664.6,954.8 669.6,964.3 659.6,964.3" fill="#00f"/>
<polygon points="686.4,954.2 691.4,963.7 681.4,963.7" fill="#00f"/>
<polygon points="707.4,953.6 712.4,963.1 702.4,963.1" fill="#00f"/>
<polygon points="729.3,952.9 734.3,962.4 724.3,962.4" fill="#00f"/>
<polygon points="751.2,952.0 756.2,961.5 746.2,961.5" fill="#00f"/>
<polygon points="773.1,951.5 778.1,961.0 768.1,961.0" fill="#00f"/>
<polygon points="795.0,950.6 800.0,960.1 790.0,960.1" fill="#00f"/>
<polygon points="816.0,949.1 821.0,958.6 811.0,958.6" fill="#00f"/>
<polygon points="837.0,946.9 842.0,956.4 832.0,956.4" fill="#00f"/>
<polygon points="859.8,940.9 864.8,950.4 854.8,950.4" fill="#00f"/>
<polygon points="880.8,925.4 885.8,934.9 875.8,934.9" fill="#00f"/>
<polygon points="884.4,912.6 889.4,922.1 879.4,922.1" fill="#00f"/>
<polygon points="888.1,903.5 893.1,913.0 883.1,913.0" fill="#00f"/>
<polygon points="889.9,883.4 894.9,892.9 884.9,892.9" fill="#00f"/>
<polygon points="891.7,867.0 896.7,876.5 886.7,876.5" fill="#00f"/>
<polygon points="893.5,848.8 898.5,858.3 888.5,858.3" fill="#00f"/>
<polygon points="895.4,812.1 900.4,821.6 890.4,821.6" fill="#00f"/>
<polygon points="893.9,842.3 898.9,832.8 888.9,832.8" fill="#00f"/>
<polygon points="892.0,876.0 897.0,866.5 887.0,866.5" fill="#00f"/>
<polygon points="890.0,899.0 895.0,889.5 885.0,889.5" fill="#00f"/>
<polygon points="886.0,918.0 891.0,908.5 881.0,908.5" fill="#00f"/>
<polygon points="881.0,934.0 886.0,924.5 876.0,924.5" fill="#00f"/>
<polygon points="860.0,956.0 865.0,946.5 855.0,946.5" fill="#00f"/>
<polygon points="838.0,962.0 843.0,952.5 833.0,952.5" fill="#00f"/>
<polygon points="816.0,964.5 821.0,955.0 811.0,955.0" fill="#00f"/>
<polygon points="795.0,966.0 800.0,956.5 790.0,956.5" fill="#00f"/>
<polygon points="773.0,967.0 778.0,957.5 768.0,957.5" fill="#00f"/>
<polygon points="748.3,968.0 753.3,958.5 743.3,958.5" fill="#00f"/>
<polygon points="727.0,969.0 732.0,959.5 722.0,959.5" fill="#00f"/>
<polygon points="705.0,969.8 710.0,960.3 700.0,960.3" fill="#00f"/>
<polygon points="682.9,970.5 687.9,961.0 677.9,961.0" fill="#00f"/>
<polygon points="660.6,971.0 665.6,961.5 655.6,961.5" fill="#00f"/>
<polygon points="638.4,972.0 643.4,962.5 633.4,962.5" fill="#00f"/>
<polygon points="616.1,972.5 621.1,963.0 611.1,963.0" fill="#00f"/>
<polygon points="594.0,973.5 599.0,964.0 589.0,964.0" fill="#00f"/>
<polygon points="572.0,974.0 577.0,964.5 567.0,964.5" fill="#00f"/>
<polygon points="550.0,975.0 555.0,965.5 545.0,965.5" fill="#00f"/>
<polygon points="528.0,975.5 533.0,966.0 523.0,966.0" fill="#00f"/>
<polygon points="506.0,976.0 511.0,966.5 501.0,966.5" fill="#00f"/>
<polygon points="485.0,976.5 490.0,967.0 480.0,967.0" fill="#00f"/>
<polygon points="471.5,977.4 476.5,967.9 466.5,967.9" fill="#00f"/>
<polyline points="465.7,975.3 491.4,975.3 500.9,975.3 510.4,975.3 520.9,975.3 532.3,975.3 543.7,975.3 554.2,975.3 564.7,975.3 575.1,975.3 587.5,975.3 598.0,975.3 619.9,975.3 641.8,975.3 663.6,975.3 685.5,975.3 707.4,975.3 729.3,975.3 751.2,975.3 773.1,975.3 795.0,975.3 816.9,975.3 838.8,975.3 860.7,975.3 881.7,975.3 893.5,974.5 899.9,974.5" fill="none" stroke="#008000" stroke-width="2.2" stroke-linejoin="round" stroke-linecap="round" />
<polygon points="465.7,968.8 471.5,975.3 465.7,981.8 459.9,975.3" fill="#008000"/>
<polygon points="491.4,968.8 497.2,975.3 491.4,981.8 485.6,975.3" fill="#008000"/>
<polygon points="500.9,968.8 506.7,975.3 500.9,981.8 495.1,975.3" fill="#008000"/>
<polygon points="510.4,968.8 516.2,975.3 510.4,981.8 504.6,975.3" fill="#008000"/>
<polygon points="520.9,968.8 526.7,975.3 520.9,981.8 515.1,975.3" fill="#008000"/>
<polygon points="532.3,968.8 538.1,975.3 532.3,981.8 526.5,975.3" fill="#008000"/>
<polygon points="543.7,968.8 549.5,975.3 543.7,981.8 537.9,975.3" fill="#008000"/>
<polygon points="554.2,968.8 560.0,975.3 554.2,981.8 548.4,975.3" fill="#008000"/>
<polygon points="564.7,968.8 570.5,975.3 564.7,981.8 558.9,975.3" fill="#008000"/>
<polygon points="575.1,968.8 580.9,975.3 575.1,981.8 569.3,975.3" fill="#008000"/>
<polygon points="587.5,968.8 593.3,975.3 587.5,981.8 581.7,975.3" fill="#008000"/>
<polygon points="598.0,968.8 603.8,975.3 598.0,981.8 592.2,975.3" fill="#008000"/>
<polygon points="619.9,968.8 625.7,975.3 619.9,981.8 614.1,975.3" fill="#008000"/>
<polygon points="641.8,968.8 647.6,975.3 641.8,981.8 636.0,975.3" fill="#008000"/>
<polygon points="663.6,968.8 669.4,975.3 663.6,981.8 657.8,975.3" fill="#008000"/>
<polygon points="685.5,968.8 691.3,975.3 685.5,981.8 679.7,975.3" fill="#008000"/>
<polygon points="707.4,968.8 713.2,975.3 707.4,981.8 701.6,975.3" fill="#008000"/>
<polygon points="729.3,968.8 735.1,975.3 729.3,981.8 723.5,975.3" fill="#008000"/>
<polygon points="751.2,968.8 757.0,975.3 751.2,981.8 745.4,975.3" fill="#008000"/>
<polygon points="773.1,968.8 778.9,975.3 773.1,981.8 767.3,975.3" fill="#008000"/>
<polygon points="795.0,968.8 800.8,975.3 795.0,981.8 789.2,975.3" fill="#008000"/>
<polygon points="816.9,968.8 822.7,975.3 816.9,981.8 811.1,975.3" fill="#008000"/>
<polygon points="838.8,968.8 844.6,975.3 838.8,981.8 833.0,975.3" fill="#008000"/>
<polygon points="860.7,968.8 866.5,975.3 860.7,981.8 854.9,975.3" fill="#008000"/>
<polygon points="881.7,968.8 887.5,975.3 881.7,981.8 875.9,975.3" fill="#008000"/>
<polygon points="893.5,968.0 899.3,974.5 893.5,981.0 887.7,974.5" fill="#008000"/>
<polygon points="899.9,968.0 905.7,974.5 899.9,981.0 894.1,974.5" fill="#008000"/>
<rect x="421.5" y="617.5" width="526.1" height="389.9" fill="none" stroke="#000" stroke-width="3.6"/>
<line x1="421.6" y1="1007.4" x2="421.6" y2="1013.2" stroke="#000" stroke-width="3.6"/>
<line x1="465.4" y1="1007.4" x2="465.4" y2="1016.7" stroke="#000" stroke-width="3.6"/>
<line x1="509.2" y1="1007.4" x2="509.2" y2="1013.2" stroke="#000" stroke-width="3.6"/>
<line x1="552.9" y1="1007.4" x2="552.9" y2="1016.7" stroke="#000" stroke-width="3.6"/>
<line x1="596.7" y1="1007.4" x2="596.7" y2="1013.2" stroke="#000" stroke-width="3.6"/>
<line x1="640.5" y1="1007.4" x2="640.5" y2="1016.7" stroke="#000" stroke-width="3.6"/>
<line x1="684.2" y1="1007.4" x2="684.2" y2="1013.2" stroke="#000" stroke-width="3.6"/>
<line x1="728.0" y1="1007.4" x2="728.0" y2="1016.7" stroke="#000" stroke-width="3.6"/>
<line x1="771.8" y1="1007.4" x2="771.8" y2="1013.2" stroke="#000" stroke-width="3.6"/>
<line x1="815.6" y1="1007.4" x2="815.6" y2="1016.7" stroke="#000" stroke-width="3.6"/>
<line x1="859.3" y1="1007.4" x2="859.3" y2="1013.2" stroke="#000" stroke-width="3.6"/>
<line x1="903.1" y1="1007.4" x2="903.1" y2="1016.7" stroke="#000" stroke-width="3.6"/>
<line x1="946.9" y1="1007.4" x2="946.9" y2="1013.2" stroke="#000" stroke-width="3.6"/>
<line x1="421.5" y1="1007.8" x2="416.2" y2="1007.8" stroke="#000" stroke-width="3.6"/>
<line x1="421.5" y1="975.3" x2="412.7" y2="975.3" stroke="#000" stroke-width="3.6"/>
<line x1="421.5" y1="942.8" x2="416.2" y2="942.8" stroke="#000" stroke-width="3.6"/>
<line x1="421.5" y1="910.2" x2="412.7" y2="910.2" stroke="#000" stroke-width="3.6"/>
<line x1="421.5" y1="877.7" x2="416.2" y2="877.7" stroke="#000" stroke-width="3.6"/>
<line x1="421.5" y1="845.1" x2="412.7" y2="845.1" stroke="#000" stroke-width="3.6"/>
<line x1="421.5" y1="812.6" x2="416.2" y2="812.6" stroke="#000" stroke-width="3.6"/>
<line x1="421.5" y1="780.1" x2="412.7" y2="780.1" stroke="#000" stroke-width="3.6"/>
<line x1="421.5" y1="747.5" x2="416.2" y2="747.5" stroke="#000" stroke-width="3.6"/>
<line x1="421.5" y1="715.0" x2="412.7" y2="715.0" stroke="#000" stroke-width="3.6"/>
<line x1="421.5" y1="682.4" x2="416.2" y2="682.4" stroke="#000" stroke-width="3.6"/>
<line x1="421.5" y1="649.9" x2="412.7" y2="649.9" stroke="#000" stroke-width="3.6"/>
<line x1="421.5" y1="617.4" x2="416.2" y2="617.4" stroke="#000" stroke-width="3.6"/>
<line x1="398" y1="95" x2="442" y2="95" stroke="#000" stroke-width="4.6" stroke-linecap="round"/>
<line x1="398" y1="126" x2="442" y2="126" stroke="#f00" stroke-width="4.6" stroke-linecap="round"/>
<line x1="398" y1="165.7" x2="442" y2="165.7" stroke="#00f" stroke-width="4.6" stroke-linecap="round"/>
<line x1="398" y1="205.7" x2="442" y2="205.7" stroke="#f0f" stroke-width="4.6" stroke-linecap="round"/>
<line x1="398" y1="245.6" x2="442" y2="245.6" stroke="#008000" stroke-width="4.6" stroke-linecap="round"/>
<line x1="767.5" y1="102" x2="812.5" y2="102" stroke="#000" stroke-width="4.6" stroke-linecap="round"/>
<line x1="767.5" y1="133" x2="812.5" y2="133" stroke="#f00" stroke-width="4.6" stroke-linecap="round"/>
<line x1="767.5" y1="172.6" x2="812.5" y2="172.6" stroke="#00f" stroke-width="4.6" stroke-linecap="round"/>
<line x1="767.5" y1="212.1" x2="812.5" y2="212.1" stroke="#f0f" stroke-width="4.6" stroke-linecap="round"/>
<line x1="473.5" y1="660.1" x2="514.5" y2="660.1" stroke="#000" stroke-width="3.3" stroke-linecap="round"/>
<circle cx="494" cy="659.8" r="3.9" fill="#1a1a1a" stroke="#000" stroke-width="1"/><circle cx="493.5" cy="659.2" r="1.4" fill="#bbb"/>
<line x1="472.5" y1="705.2" x2="515.5" y2="705.2" stroke="#00f" stroke-width="2.2"/>
<polygon points="494,698.4 499.8,708.5 489.3,708.5" fill="#00f"/>
<line x1="472.5" y1="749.6" x2="515.5" y2="749.6" stroke="#008000" stroke-width="2.2"/>
<polygon points="490.2,749.6 497.8,745.2 497.8,755" fill="#008000"/>
<g font-family='"Liberation Serif", serif' font-weight="bold" fill="#000">
<g transform="translate(19.03,58.35) scale(1.0867,1.0053)"><text font-size="42">(a)</text></g>
<g transform="translate(679.95,58.05) scale(1.1234,1.0053)"><text font-size="42">(b)</text></g>
<g transform="translate(267.56,646.62) scale(1.0721,0.9974)"><text font-size="42">(c)</text></g>
<g transform="translate(57.03,435.50) rotate(-90) scale(0.9969,0.9667)"><text font-size="47">Absorbance (a.u.)</text></g>
<g transform="translate(719.53,399.81) rotate(-90) scale(1.0052,0.9667)"><text font-size="47">Intensity (a.u.)</text></g>
<g transform="translate(217.97,549.07) scale(1.0299,1.0250)"><text font-size="45">Wavelength (nm)</text></g>
<g transform="translate(903.17,554.79) scale(1.0320,1.0125)"><text font-size="45">Wavelength (nm)</text></g>
<g transform="translate(369.95,1032.80) rotate(-90) scale(0.9899,1.0216)"><text font-size="31">Volume absorbed (cm<tspan font-size="30" dy="-11">3</tspan><tspan dy="11">g</tspan><tspan font-size="30" dy="-11">-1</tspan><tspan dy="11"> STP)</tspan></text></g>
<g transform="translate(549.50,1072.57) scale(1.0033,1.0192)"><text font-size="28" letter-spacing="0.9">Relative pressure (P/P<tspan font-size="27" dy="7">0</tspan><tspan dy="-7">)</tspan></text></g>
<g transform="translate(448.06,101.20) scale(1.0362,1.0000)"><text font-size="24.5">ZnO</text></g>
<g transform="translate(448.07,132.10) scale(1.0310,1.0000)"><text font-size="24.5">ZnO/Ti<tspan font-size="24.5" dy="8.2">3</tspan><tspan dy="-8.2">C</tspan><tspan font-size="24.5" dy="8.2">2</tspan><tspan dy="-8.2">T</tspan><tspan font-size="24.5" dy="8.2">x</tspan><tspan dy="-8.2">-1</tspan></text></g>
<g transform="translate(448.07,171.80) scale(1.0339,1.0000)"><text font-size="24.5">ZnO/Ti<tspan font-size="24.5" dy="8.2">3</tspan><tspan dy="-8.2">C</tspan><tspan font-size="24.5" dy="8.2">2</tspan><tspan dy="-8.2">T</tspan><tspan font-size="24.5" dy="8.2">x</tspan><tspan dy="-8.2">-2</tspan></text></g>
<g transform="translate(448.07,211.60) scale(1.0339,1.0000)"><text font-size="24.5">ZnO/Ti<tspan font-size="24.5" dy="8.2">3</tspan><tspan dy="-8.2">C</tspan><tspan font-size="24.5" dy="8.2">2</tspan><tspan dy="-8.2">T</tspan><tspan font-size="24.5" dy="8.2">x</tspan><tspan dy="-8.2">-3</tspan></text></g>
<g transform="translate(449.70,251.80) scale(1.0140,1.0000)"><text font-size="24.5">Ti<tspan font-size="24.5" dy="8.2">3</tspan><tspan dy="-8.2">C</tspan><tspan font-size="24.5" dy="8.2">2</tspan><tspan dy="-8.2">T</tspan><tspan font-size="24.5" dy="8.2">x</tspan><tspan dy="-8.2"></tspan></text></g>
<g transform="translate(817.48,108.20) scale(1.0191,1.0000)"><text font-size="24.5">ZnO</text></g>
<g transform="translate(817.48,139.20) scale(1.0214,1.0000)"><text font-size="24.5">ZnO/Ti<tspan font-size="24.5" dy="7.2">3</tspan><tspan dy="-7.2">C</tspan><tspan font-size="24.5" dy="7.2">2</tspan><tspan dy="-7.2">T</tspan><tspan font-size="24.5" dy="7.2">x</tspan><tspan dy="-7.2">-1</tspan></text></g>
<g transform="translate(817.48,178.80) scale(1.0238,1.0000)"><text font-size="24.5">ZnO/Ti<tspan font-size="24.5" dy="7.2">3</tspan><tspan dy="-7.2">C</tspan><tspan font-size="24.5" dy="7.2">2</tspan><tspan dy="-7.2">T</tspan><tspan font-size="24.5" dy="7.2">x</tspan><tspan dy="-7.2">-2</tspan></text></g>
<g transform="translate(817.48,218.40) scale(1.0238,1.0000)"><text font-size="24.5">ZnO/Ti<tspan font-size="24.5" dy="7.2">3</tspan><tspan dy="-7.2">C</tspan><tspan font-size="24.5" dy="7.2">2</tspan><tspan dy="-7.2">T</tspan><tspan font-size="24.5" dy="7.2">x</tspan><tspan dy="-7.2">-3</tspan></text></g>
<g transform="translate(522.20,665.80) scale(0.9845,1.0000)"><text font-size="28" letter-spacing="1.4">Ti<tspan font-size="27" dy="7.2">3</tspan><tspan dy="-7.2">C</tspan><tspan font-size="27" dy="7.2">2</tspan><tspan dy="-7.2">T</tspan><tspan font-size="27" dy="7.2">x</tspan><tspan dy="-7.2">MXene</tspan></text></g>
<g transform="translate(520.41,710.10) scale(0.9854,1.0000)"><text font-size="28" letter-spacing="1.3">ZnO/Ti<tspan font-size="27" dy="7.2">3</tspan><tspan dy="-7.2">C</tspan><tspan font-size="27" dy="7.2">2</tspan><tspan dy="-7.2">T</tspan><tspan font-size="27" dy="7.2">x</tspan><tspan dy="-7.2">-2</tspan></text></g>
<g transform="translate(520.49,755.00) scale(1.0071,1.0000)"><text font-size="28" letter-spacing="1.2">ZnO</text></g>
<g transform="translate(86.80,512.90) scale(1.0413,1.0333)"><text font-size="32" text-anchor="middle">200</text></g>
<g transform="translate(201.06,512.90) scale(1.0413,1.0333)"><text font-size="32" text-anchor="middle">300</text></g>
<g transform="translate(315.32,512.90) scale(1.0413,1.0333)"><text font-size="32" text-anchor="middle">400</text></g>
<g transform="translate(429.58,512.90) scale(1.0413,1.0333)"><text font-size="32" text-anchor="middle">500</text></g>
<g transform="translate(543.84,512.90) scale(1.0413,1.0333)"><text font-size="32" text-anchor="middle">600</text></g>
<g transform="translate(658.10,512.90) scale(1.0413,1.0333)"><text font-size="32" text-anchor="middle">700</text></g>
<g transform="translate(747.60,512.90) scale(1.0413,1.0333)"><text font-size="32" text-anchor="middle">500</text></g>
<g transform="translate(829.10,512.90) scale(1.0413,1.0333)"><text font-size="32" text-anchor="middle">510</text></g>
<g transform="translate(910.60,512.90) scale(1.0413,1.0333)"><text font-size="32" text-anchor="middle">520</text></g>
<g transform="translate(992.10,512.90) scale(1.0413,1.0333)"><text font-size="32" text-anchor="middle">530</text></g>
<g transform="translate(1073.60,512.90) scale(1.0413,1.0333)"><text font-size="32" text-anchor="middle">540</text></g>
<g transform="translate(1155.10,512.90) scale(1.0413,1.0333)"><text font-size="32" text-anchor="middle">550</text></g>
<g transform="translate(1236.60,512.90) scale(1.0413,1.0333)"><text font-size="32" text-anchor="middle">560</text></g>
<g transform="translate(1318.10,512.90) scale(1.0413,1.0333)"><text font-size="32" text-anchor="middle">570</text></g>
<g transform="translate(407.67,982.65) scale(1.0654,1.0278)"><text font-size="28" text-anchor="end">0</text></g>
<g transform="translate(407.67,917.57) scale(1.0654,1.0278)"><text font-size="28" text-anchor="end">5</text></g>
<g transform="translate(407.67,852.49) scale(1.0654,1.0278)"><text font-size="28" text-anchor="end">10</text></g>
<g transform="translate(407.67,787.41) scale(1.0654,1.0278)"><text font-size="28" text-anchor="end">15</text></g>
<g transform="translate(407.67,722.33) scale(1.0654,1.0278)"><text font-size="28" text-anchor="end">20</text></g>
<g transform="translate(407.67,657.25) scale(1.0654,1.0278)"><text font-size="28" text-anchor="end">25</text></g>
<g transform="translate(464.60,1043.90) scale(1.0576,1.0389)"><text font-size="28" text-anchor="middle">0.0</text></g>
<g transform="translate(552.14,1043.90) scale(1.0576,1.0389)"><text font-size="28" text-anchor="middle">0.2</text></g>
<g transform="translate(639.68,1043.90) scale(1.0576,1.0389)"><text font-size="28" text-anchor="middle">0.4</text></g>
<g transform="translate(727.22,1043.90) scale(1.0576,1.0389)"><text font-size="28" text-anchor="middle">0.6</text></g>
<g transform="translate(814.76,1043.90) scale(1.0576,1.0389)"><text font-size="28" text-anchor="middle">0.8</text></g>
<g transform="translate(902.30,1043.90) scale(1.0576,1.0389)"><text font-size="28" text-anchor="middle">1.0</text></g>
</g></svg></body></html>
